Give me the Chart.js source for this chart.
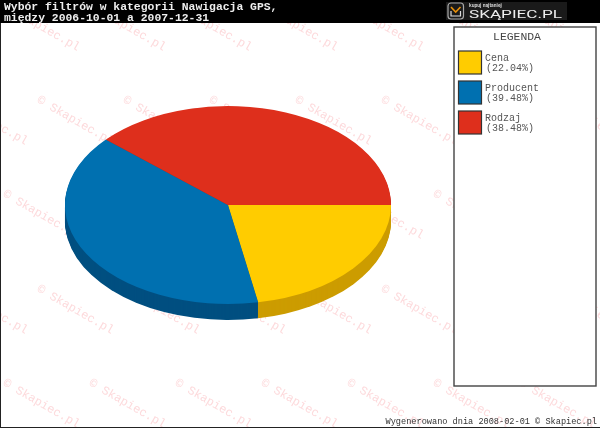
<!DOCTYPE html>
<html><head><meta charset="utf-8">
<style>html,body{margin:0;padding:0;background:#fff;overflow:hidden}canvas{display:block}</style>
<script src="https://cdn.jsdelivr.net/npm/chart.js@4"></script></head>
<body><canvas id="c" width="600" height="428"></canvas>
<script>
const categories = ["Cena", "Producent", "Rodzaj"];
const shares = [22.04, 39.48, 38.48];
const colors = ["#FFCC00", "#0070B0", "#DE2F1C"];
const sideColors = ["#CC9C00", "#004F80", "#A82010"];
const titleLines = ["Wybór filtrów w kategorii Nawigacja GPS,", "między 2006-10-01 a 2007-12-31"];
const legendTitle = "LEGENDA";
const footerText = "Wygenerowano dnia 2008-02-01 © Skapiec.pl";
const watermarkText = "© Skapiec.pl";
const squash = 0.607, depth = 16;
const mono = '"Liberation Mono"';

function background(ctx) {
  ctx.fillStyle = "#fff"; ctx.fillRect(0, 0, 600, 428);
  ctx.save();
  ctx.font = "12px " + mono; ctx.fillStyle = "#FDDADC"; ctx.textBaseline = "middle"; ctx.textAlign = "left";
  [7, 101, 195, 290, 384].forEach((y, r) => {
    const start = r % 2 ? -45 : 7;
    for (let x = start; x < 620; x += 86) {
      ctx.save(); ctx.translate(x, y); ctx.rotate(Math.PI / 6);
      ctx.fillText(watermarkText, -3.6, 0); ctx.restore();
    }
  });
  ctx.restore();
}
function frame(ctx) {
  ctx.save();
  ctx.fillStyle = "#000"; ctx.fillRect(0, 0, 600, 23);
  ctx.fillStyle = "#222"; ctx.fillRect(0, 23, 1, 405); ctx.fillRect(0, 427, 600, 1);
  ctx.fillStyle = "#eee"; ctx.font = "bold 11.4px " + mono; ctx.textBaseline = "alphabetic"; ctx.textAlign = "left";
  ctx.fillText(titleLines[0], 4, 10); ctx.fillText(titleLines[1], 4, 20.5);
  // logo
  ctx.fillStyle = "#1a1a1a"; ctx.fillRect(446, 2, 121, 18);
  ctx.strokeStyle = "#aaa"; ctx.lineWidth = 1.2;
  ctx.beginPath(); ctx.roundRect(448, 3, 15.5, 16, 3); ctx.stroke();
  ctx.strokeStyle = "#E8900A"; ctx.lineWidth = 1.6;
  ctx.beginPath(); ctx.moveTo(451, 7); ctx.lineTo(455.7, 12); ctx.lineTo(460.5, 7); ctx.stroke();
  ctx.strokeStyle = "#ddd"; ctx.lineWidth = 1.2;
  ctx.beginPath(); ctx.moveTo(451, 11); ctx.lineTo(451, 16); ctx.lineTo(460.5, 16); ctx.lineTo(460.5, 11); ctx.stroke();
  ctx.fillStyle = "#ccc"; ctx.font = "bold 5px Roboto";
  ctx.fillText("kupuj najtaniej", 469, 7);
  ctx.fillStyle = "#eee"; ctx.font = "11px Roboto";
  const logo = "SKĄPIEC.PL", logoW = ctx.measureText(logo).width;
  ctx.save(); ctx.translate(469, 18); ctx.scale(93 / logoW, 1); ctx.fillText(logo, 0, 0); ctx.restore();
  // legend
  ctx.fillStyle = "#fff"; ctx.fillRect(454, 27, 142, 359);
  ctx.strokeStyle = "#444"; ctx.lineWidth = 1.4; ctx.strokeRect(454, 27, 142, 359);
  ctx.fillStyle = "#444"; ctx.font = "11.4px " + mono; ctx.textAlign = "center";
  ctx.fillText(legendTitle, 517, 40);
  ctx.textAlign = "left"; ctx.font = "10px " + mono;
  categories.forEach((name, i) => {
    const y = 51 + i * 30;
    ctx.fillStyle = colors[i]; ctx.fillRect(458.5, y, 23, 23);
    ctx.strokeStyle = "#333"; ctx.lineWidth = 1.2; ctx.strokeRect(458.5, y, 23, 23);
    ctx.fillStyle = "#555";
    ctx.fillText(name, 485, y + 10);
    ctx.fillText("(" + shares[i].toFixed(2) + "%)", 486, y + 20);
  });
  ctx.fillStyle = "#333"; ctx.font = "8.6px " + mono; ctx.textAlign = "right";
  ctx.fillText(footerText, 597, 424);
  ctx.restore();
}
const ellipsePlugin = {
  id: "ellipse",
  beforeDatasetsDraw(chart) {
    const ctx = chart.ctx, arcs = chart.getDatasetMeta(0).data;
    background(ctx);
    const cx = arcs[0].x, cy = arcs[0].y;
    const squashed = (extra) => { ctx.translate(cx, cy + extra); ctx.scale(1, squash); ctx.translate(-cx, -cy); };
    for (let d = depth; d >= 1; d--) {
      arcs.forEach((a, i) => {
        ctx.save(); squashed(d);
        ctx.fillStyle = sideColors[i];
        ctx.beginPath(); ctx.moveTo(a.x, a.y);
        ctx.arc(a.x, a.y, a.outerRadius, a.startAngle, a.endAngle);
        ctx.closePath(); ctx.fill(); ctx.restore();
      });
    }
    ctx.save(); squashed(0);
  },
  afterDatasetsDraw(chart) { chart.ctx.restore(); frame(chart.ctx); }
};
new Chart(document.getElementById("c"), {
  type: "pie",
  data: { labels: categories, datasets: [{ data: shares, backgroundColor: colors, borderWidth: 0, clip: false }] },
  options: {
    responsive: false, animation: false, rotation: 90,
    layout: { padding: { left: 0, right: 144, top: 42, bottom: 60 } },
    plugins: { legend: { display: false }, tooltip: { enabled: false }, title: { display: false } }
  },
  plugins: [ellipsePlugin]
});
</script></body></html>
